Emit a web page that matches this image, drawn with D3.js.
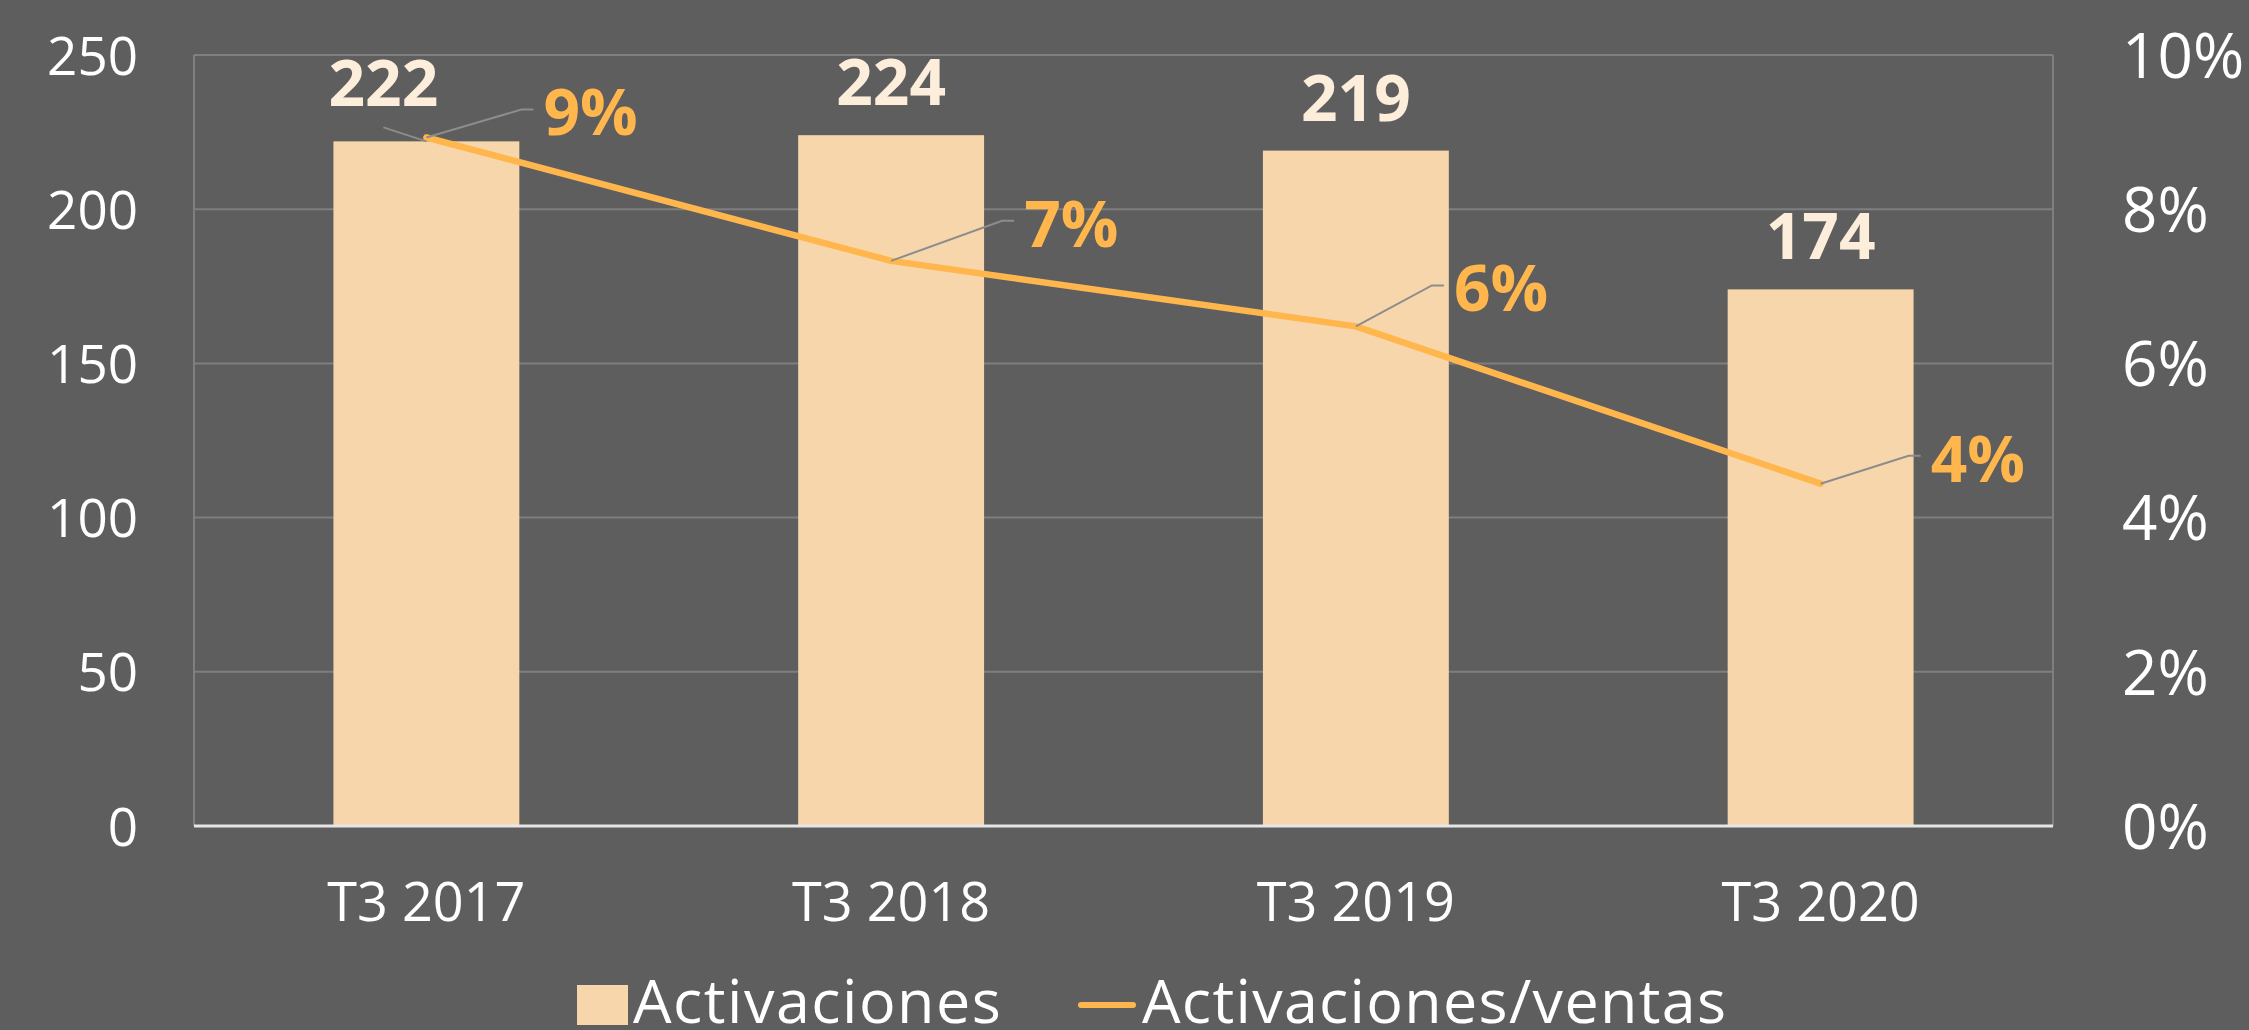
<!DOCTYPE html>
<html>
<head>
<meta charset="utf-8">
<script src="https://cdn.jsdelivr.net/npm/d3@7"></script>
<style>
  html, body { margin: 0; padding: 0; background: #5e5e5e; }
  svg { display: block; }
  text { font-family: "Open Sans", sans-serif; }
</style>
</head>
<body>
<svg id="chart"></svg>
<script>
// datos
const categories = ["T3 2017", "T3 2018", "T3 2019", "T3 2020"];
const activaciones = [222, 224, 219, 174];
const ratio = [0.0893, 0.0733, 0.0648, 0.0444];
const leftTicks = [0, 50, 100, 150, 200, 250];
const rightTicks = [0, 0.02, 0.04, 0.06, 0.08, 0.10];
const seriesNames = ["Activaciones", "Activaciones/ventas"];

// ajustes de etiquetas (desplazamiento respecto al punto)
const barLabelShift = [[-43, -35], [0, -30], [0, -30], [0, -30]];
const pctLabelShift = [[117, -2], [133, -14], [98, -15], [110, -2]];

const width = 2249, height = 1030;
const plot = { left: 194, right: 2053, top: 55, bottom: 826 };

const colors = {
  bg: "#5e5e5e",
  bar: "#f8d6ab",
  barLabel: "#fdeedc",
  line: "#ffb74d",
  grid: "#7f7f7f",
  leader: "#8c8c8c",
  text: "#ffffff"
};

const svg = d3.select("#chart")
  .attr("width", width)
  .attr("height", height);

svg.append("rect").attr("width", width).attr("height", height).attr("fill", colors.bg);

const x = d3.scaleBand()
  .domain(categories)
  .range([plot.left, plot.right])
  .paddingInner(0.6)
  .paddingOuter(0.3);

const yLeft = d3.scaleLinear().domain([0, 250]).range([plot.bottom, plot.top]);
const yRight = d3.scaleLinear().domain([0, 0.10]).range([plot.bottom, plot.top]);

// rejilla
svg.append("g")
  .selectAll("line")
  .data(leftTicks.filter(d => d > 0))
  .join("line")
  .attr("x1", plot.left).attr("x2", plot.right)
  .attr("y1", d => yLeft(d)).attr("y2", d => yLeft(d))
  .attr("stroke", colors.grid).attr("stroke-width", 2);

// bordes laterales
[plot.left, plot.right].forEach(px => {
  svg.append("line")
    .attr("x1", px).attr("x2", px)
    .attr("y1", plot.top).attr("y2", plot.bottom)
    .attr("stroke", colors.grid).attr("stroke-width", 2);
});

// barras
svg.append("g")
  .selectAll("rect")
  .data(activaciones)
  .join("rect")
  .attr("x", (d, i) => x(categories[i]))
  .attr("width", x.bandwidth())
  .attr("y", d => yLeft(d))
  .attr("height", d => yLeft(0) - yLeft(d))
  .attr("fill", colors.bar);

// eje x (línea base)
svg.append("line")
  .attr("x1", plot.left).attr("x2", plot.right)
  .attr("y1", plot.bottom).attr("y2", plot.bottom)
  .attr("stroke", "#e6e6e6").attr("stroke-width", 3);

// ejes con d3.axis
const axisLeft = svg.append("g")
  .attr("transform", `translate(${plot.left - 56},0)`)
  .call(d3.axisLeft(yLeft).tickValues(leftTicks).tickSize(0).tickPadding(0));
axisLeft.select(".domain").remove();
axisLeft.selectAll("text")
  .attr("fill", colors.text)
  .style("font-size", "53px")
  .attr("dy", "0.36em");

const axisRight = svg.append("g")
  .attr("transform", `translate(${plot.right + 69},0)`)
  .call(d3.axisRight(yRight).tickValues(rightTicks).tickFormat(d3.format(".0%")).tickSize(0).tickPadding(0));
axisRight.select(".domain").remove();
axisRight.selectAll("text")
  .attr("fill", colors.text)
  .style("font-size", "62px")
  .attr("dy", "0.36em");

const axisBottom = svg.append("g")
  .attr("transform", `translate(0,${plot.bottom})`)
  .call(d3.axisBottom(x).tickSize(0).tickPadding(0));
axisBottom.select(".domain").remove();
axisBottom.selectAll("text")
  .attr("fill", colors.text)
  .style("font-size", "54px")
  .attr("y", 95)
  .attr("dy", 0);

// línea
const pts = ratio.map((v, i) => [x(categories[i]) + x.bandwidth() / 2, yRight(v)]);

svg.append("path")
  .datum(pts)
  .attr("d", d3.line())
  .attr("fill", "none")
  .attr("stroke", colors.line)
  .attr("stroke-width", 6.5)
  .attr("stroke-linejoin", "round")
  .attr("stroke-linecap", "round");

// etiquetas de barras
activaciones.forEach((v, i) => {
  const cx = x(categories[i]) + x.bandwidth() / 2;
  const cy = yLeft(v);
  const [dx, dy] = barLabelShift[i];
  if (dx !== 0) {
    svg.append("line")
      .attr("x1", cx + dx).attr("y1", cy + dy + 21)
      .attr("x2", cx).attr("y2", cy)
      .attr("stroke", colors.leader).attr("stroke-width", 2);
  }
  svg.append("text")
    .attr("x", cx + dx).attr("y", cy + dy)
    .attr("text-anchor", "middle")
    .attr("fill", colors.barLabel)
    .style("font-size", "64px")
    .style("font-weight", 700)
    .text(d3.format("d")(v));
});

// etiquetas de porcentaje con líneas guía
ratio.forEach((v, i) => {
  const [px, py] = pts[i];
  const [dx, dy] = pctLabelShift[i];
  const tx = px + dx, ty = py + dy;
  const my = ty - 26;
  svg.append("polyline")
    .attr("points", [[px, py], [tx - 22, my], [tx - 10, my]].map(p => p.join(",")).join(" "))
    .attr("fill", "none")
    .attr("stroke", colors.leader)
    .attr("stroke-width", 2);
  svg.append("text")
    .attr("x", tx).attr("y", ty)
    .attr("fill", colors.line)
    .style("font-size", "64px")
    .style("font-weight", 700)
    .text(d3.format(".0%")(v));
});

// leyenda
const legend = svg.append("g");
legend.append("rect")
  .attr("x", 577).attr("y", 985).attr("width", 51).attr("height", 40)
  .attr("fill", colors.bar);
legend.append("text")
  .attr("x", 633).attr("y", 1023)
  .attr("fill", colors.text)
  .style("font-size", "61px")
  .style("letter-spacing", "1.5px")
  .text(seriesNames[0]);
legend.append("line")
  .attr("x1", 1081).attr("x2", 1133).attr("y1", 1005).attr("y2", 1005)
  .attr("stroke", colors.line).attr("stroke-width", 6).attr("stroke-linecap", "round");
legend.append("text")
  .attr("x", 1142).attr("y", 1023)
  .attr("fill", colors.text)
  .style("font-size", "61px")
  .style("letter-spacing", "1.3px")
  .text(seriesNames[1]);
</script>
</body>
</html>
